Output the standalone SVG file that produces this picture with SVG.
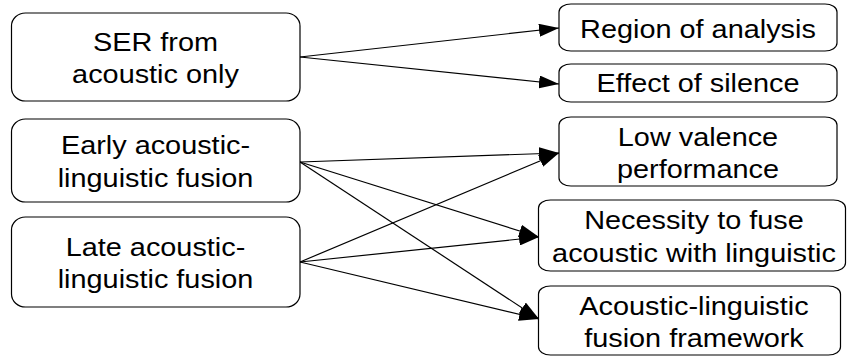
<svg xmlns="http://www.w3.org/2000/svg" width="847" height="356" viewBox="0 0 847 356">
<style>
  .box { fill: #ffffff; stroke: #000000; stroke-width: 1.2; }
  .lbl { font-family: "Liberation Sans", Arial, sans-serif; font-size: 26px; fill: #000000; text-anchor: middle; }
  .edge { fill: none; stroke: #000000; stroke-width: 1.2; marker-end: url(#arrow); }
</style>
<defs>
  <marker id="arrow" markerUnits="userSpaceOnUse" markerWidth="20" markerHeight="13" refX="20" refY="6.5" orient="auto">
    <path d="M0,0 L20,6.5 L0,13 Z" fill="#000000"/>
  </marker>
</defs>
<rect width="847" height="356" fill="#ffffff"/>

<g id="connectors">
  <line class="edge" x1="300" y1="57" x2="559" y2="28"/>
  <line class="edge" x1="300" y1="57" x2="559" y2="84"/>
  <line class="edge" x1="300" y1="162" x2="559" y2="153"/>
  <line class="edge" x1="300" y1="162" x2="539" y2="237"/>
  <line class="edge" x1="300" y1="162" x2="539" y2="319"/>
  <line class="edge" x1="300" y1="262" x2="559" y2="153"/>
  <line class="edge" x1="300" y1="262" x2="539" y2="237"/>
  <line class="edge" x1="300" y1="262" x2="539" y2="319"/>
</g>

<g id="ser">
  <rect class="box" x="11.5" y="13" width="288.5" height="88" rx="14" ry="13"/>
  <text class="lbl" transform="matrix(1.11 0 0 1 -17.105 0)"><tspan x="155.5" y="51">SER from</tspan><tspan x="155.5" y="83.5">acoustic only</tspan></text>
</g>
<g id="early">
  <rect class="box" x="11.5" y="119" width="288.5" height="83" rx="14" ry="13"/>
  <text class="lbl" transform="matrix(1.11 0 0 1 -17.105 0)"><tspan x="155.5" y="154.5">Early acoustic-</tspan><tspan x="155.5" y="187">linguistic fusion</tspan></text>
</g>
<g id="late">
  <rect class="box" x="11.5" y="217" width="288.5" height="90" rx="14" ry="13"/>
  <text class="lbl" transform="matrix(1.11 0 0 1 -17.105 0)"><tspan x="155.5" y="256">Late acoustic-</tspan><tspan x="155.5" y="288.5">linguistic fusion</tspan></text>
</g>

<g id="region">
  <rect class="box" x="559" y="4" width="278" height="47" rx="12" ry="8"/>
  <text class="lbl" transform="matrix(1.11 0 0 1 -76.78 0)"><tspan x="698" y="38">Region of analysis</tspan></text>
</g>
<g id="silence">
  <rect class="box" x="559" y="64" width="278" height="38" rx="12" ry="8"/>
  <text class="lbl" transform="matrix(1.11 0 0 1 -76.78 0)"><tspan x="698" y="92">Effect of silence</tspan></text>
</g>
<g id="valence">
  <rect class="box" x="559" y="117" width="278" height="69" rx="12" ry="8"/>
  <text class="lbl" transform="matrix(1.11 0 0 1 -76.78 0)"><tspan x="698" y="146.5">Low valence</tspan><tspan x="698" y="178.5">performance</tspan></text>
</g>
<g id="necessity">
  <rect class="box" x="538.5" y="200" width="307" height="71" rx="12" ry="8"/>
  <text class="lbl" transform="matrix(1.11 0 0 1 -76.34 0)"><tspan x="694" y="229">Necessity to fuse</tspan><tspan x="694" y="262">acoustic with linguistic</tspan></text>
</g>
<g id="framework">
  <rect class="box" x="538.5" y="286" width="302" height="69" rx="12" ry="8"/>
  <text class="lbl" transform="matrix(1.11 0 0 1 -76.34 0)"><tspan x="694" y="315">Acoustic-linguistic</tspan><tspan x="694" y="347">fusion framework</tspan></text>
</g>
</svg>
